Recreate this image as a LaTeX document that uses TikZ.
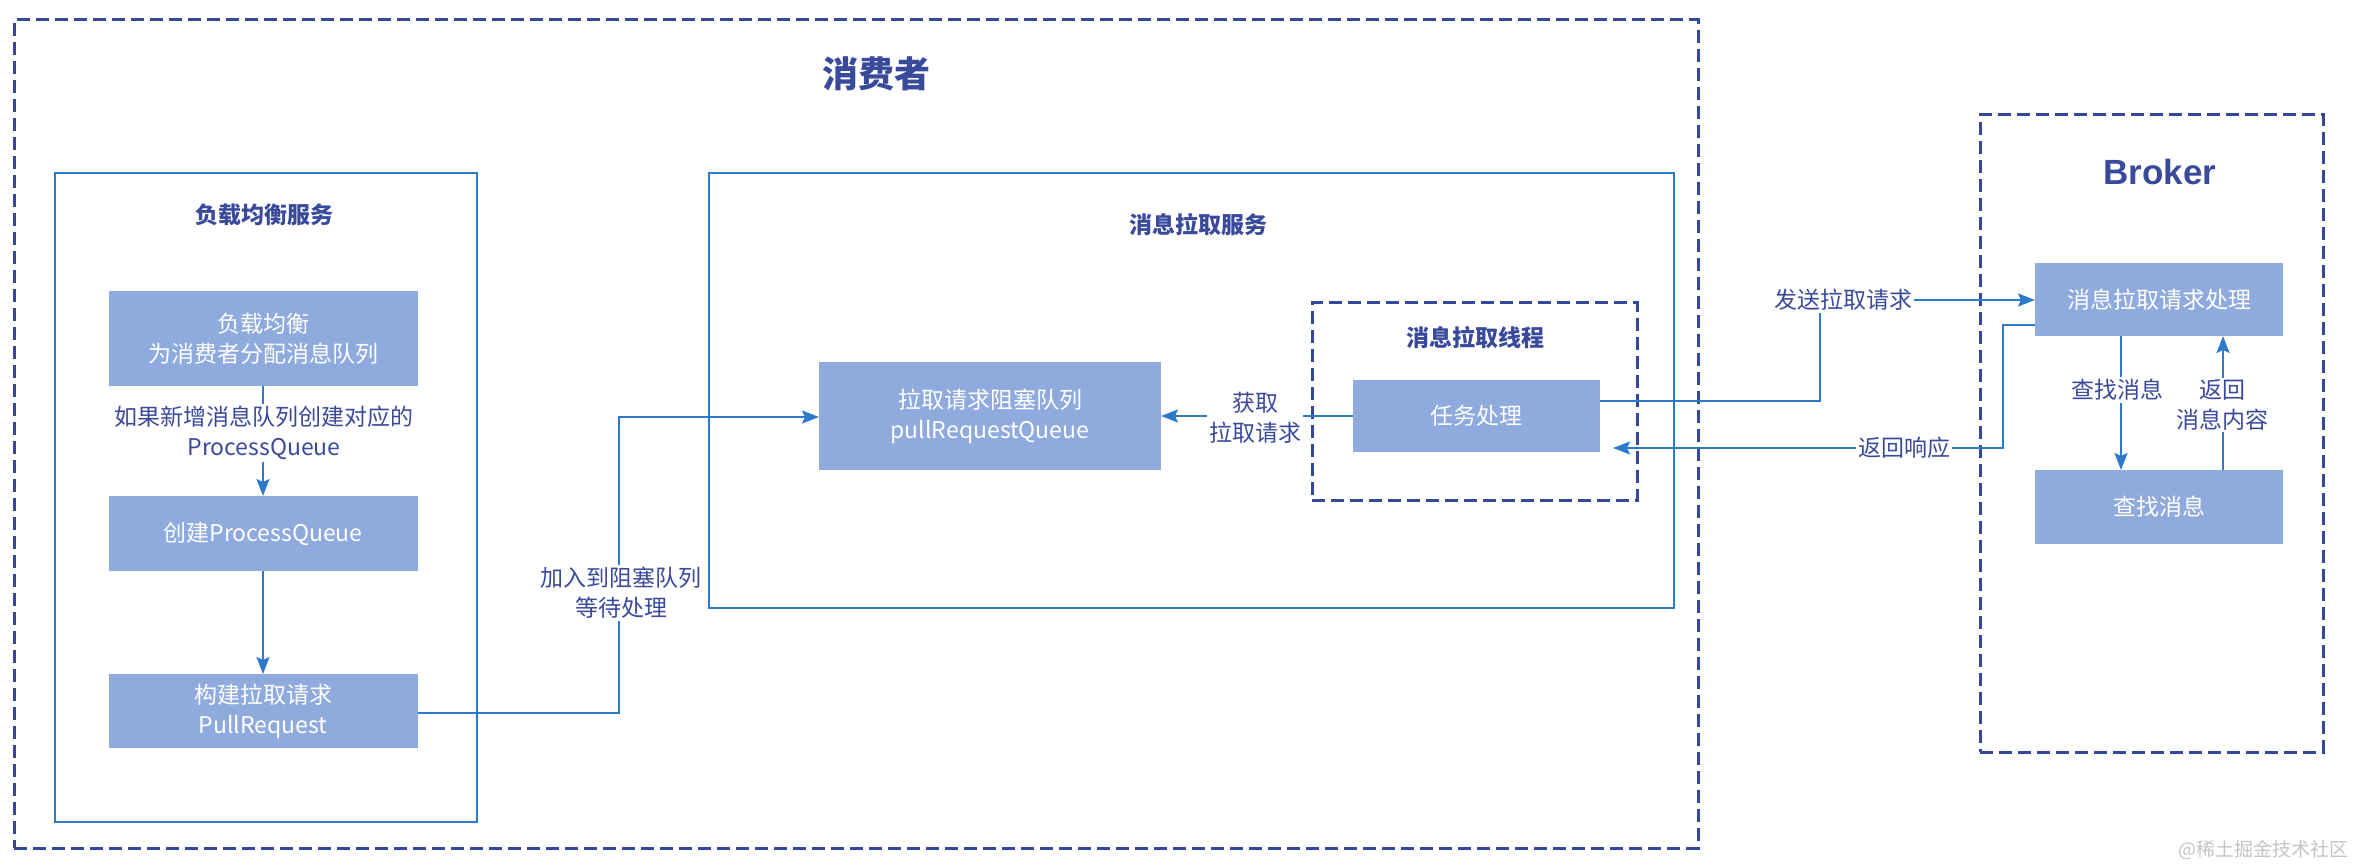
\documentclass[tikz,border=0pt]{standalone}
\usepackage{fontspec}
\setmainfont{Noto Sans CJK SC}
\newfontfamily\latinsans{Liberation Sans}
\usetikzlibrary{arrows.meta}
\definecolor{txtblue}{HTML}{3A4A9B}
\definecolor{lineblue}{HTML}{2E7ACA}
\definecolor{fillblue}{HTML}{8FAADC}
\definecolor{dashblue}{HTML}{34479A}
\definecolor{wmgray}{HTML}{C4C4C4}
\begin{document}
\begin{tikzpicture}[x=1pt,y=-1pt,
  every node/.style={font=\fontsize{23}{30}\selectfont, text=txtblue, align=center, inner sep=0pt, outer sep=0pt},
  dashbox/.style={draw=dashblue, line width=3pt, dash pattern=on 13pt off 6pt, rectangle},
  solidbox/.style={draw=lineblue, line width=1.8pt, rectangle},
  procbox/.style={fill=fillblue, text=white, rectangle},
  bigtitle/.style={font=\fontsize{36}{40}\selectfont\bfseries},
  sectitle/.style={font=\fontsize{23}{30}\selectfont\bfseries},
  lbl/.style={fill=white, inner sep=2pt},
  conn/.style={draw=lineblue, line width=1.8pt},
  arr/.style={conn, -{Stealth[length=17pt, width=13pt, inset=3pt]}}
]
\fill[white] (0,0) rectangle (2356,866);
\useasboundingbox (0,0) rectangle (2356,866);

% containers
\node[dashbox, minimum width=1684pt, minimum height=828pt] (consumer) at (856,434) {};
\node[bigtitle] (consumerT) at (876,74) {消费者};

\node[solidbox, minimum width=422pt, minimum height=649pt] (lb) at (266,497.5) {};
\node[sectitle] (lbT) at (264,215) {负载均衡服务};

\node[solidbox, minimum width=965pt, minimum height=435pt] (ps) at (1191.5,390.5) {};
\node[sectitle] (psT) at (1198,225) {消息拉取服务};

\node[dashbox, minimum width=325pt, minimum height=197pt] (th) at (1474.5,401.5) {};
\node[sectitle] (thT) at (1475,338) {消息拉取线程};

\node[dashbox, minimum width=343pt, minimum height=637pt] (broker) at (2151.5,433.5) {};
\node[font=\latinsans\fontsize{35}{40}\selectfont\bfseries] (brokerT) at (2160,172) {Broker};

% process boxes
\node[procbox, minimum width=309pt, minimum height=95pt] (b1) at (263,338.5) {负载均衡\\为消费者分配消息队列};
\node[procbox, minimum width=309pt, minimum height=75pt] (b2) at (263,533.5) {创建ProcessQueue};
\node[procbox, minimum width=309pt, minimum height=74pt] (b3) at (263,711) {构建拉取请求\\PullRequest};
\node[procbox, minimum width=342pt, minimum height=108pt] (q) at (990,416) {拉取请求阻塞队列\\pullRequestQueue};
\node[procbox, minimum width=247pt, minimum height=72pt] (task) at (1476.5,416) {任务处理};
\node[procbox, minimum width=248pt, minimum height=73pt] (req) at (2159,299.5) {消息拉取请求处理};
\node[procbox, minimum width=248pt, minimum height=74pt] (find) at (2159,507) {查找消息};

% helper coordinates
\coordinate (c1) at (619,713);
\coordinate (c2) at (619,417);
\coordinate (c3) at (1820,401);
\coordinate (c4) at (1820,300);
\coordinate (c5) at (2003,325);
\coordinate (c6) at (2003,448);
\coordinate (c7) at (1613,448);

% connectors
\draw[arr] (b1.south) -- (b2.north);
\draw[arr] (b2.south) -- (b3.north);
\draw[arr] (b3.east |- c1) -- (c1) -- (c2) -- (q.west |- c2);
\draw[arr] (task.west) -- (q.east);
\draw[arr] (task.east |- c3) -- (c3) -- (c4) -- (req.west |- c4);
\draw[arr] (req.west |- c5) -- (c5) -- (c6) -- (c7);
\draw[arr] (req.south -| 2121,0) -- (find.north -| 2121,0);
\draw[arr] (find.north -| 2223,0) -- (req.south -| 2223,0);

% labels
\node[lbl] (l1) at (264,433) {如果新增消息队列创建对应的\\ProcessQueue};
\node[lbl] (l2) at (621,593) {加入到阻塞队列\\等待处理};
\node[lbl] (l3) at (1255,418) {获取\\拉取请求};
\node[lbl] (l4) at (1843,300) {发送拉取请求};
\node[lbl] (l5) at (1904,448) {返回响应};
\node[lbl] (l6) at (2117,390) {查找消息};
\node[lbl] (l7) at (2222,405) {返回\\消息内容};

\node[text=wmgray, font=\fontsize{19}{22}\selectfont] (wm) at (2263,850) {@稀土掘金技术社区};
\end{tikzpicture}
\end{document}
